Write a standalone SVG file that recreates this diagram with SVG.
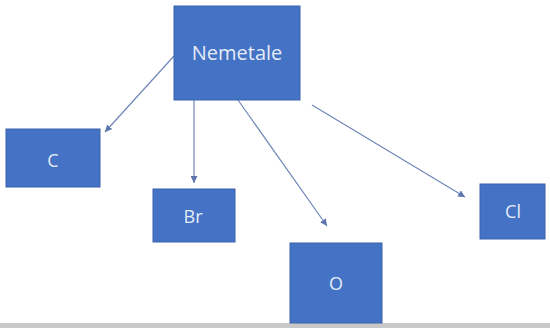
<svg xmlns="http://www.w3.org/2000/svg" width="550" height="328" viewBox="0 0 550 328">
<style>
.box{fill:#4472c4;stroke:#3a63ad;stroke-width:1}
.lbl{font-family:"Open Sans","Liberation Sans",sans-serif;fill:#e4ecf8;text-anchor:middle;dominant-baseline:central}
.edge{stroke:#6f86b8;stroke-width:1.2;fill:none;marker-end:url(#ah)}
</style>
<defs>
<marker id="ah" viewBox="0 0 10 10" refX="10" refY="5" markerWidth="7" markerHeight="7" markerUnits="userSpaceOnUse" orient="auto">
<path d="M0,0 L10,5 L0,10 z" fill="#5b76ad"/>
</marker>
</defs>
<rect width="550" height="328" fill="#ffffff"/>
<rect x="0" y="323" width="550" height="5" fill="#c8c8c8"/>
<g id="connectors">
<line class="edge" x1="174" y1="56" x2="105" y2="132"/>
<line class="edge" x1="194" y1="100" x2="194" y2="183"/>
<line class="edge" x1="238" y1="100" x2="327" y2="226"/>
<line class="edge" x1="312" y1="105" x2="465" y2="197"/>
</g>
<g id="nemetale">
<rect class="box" x="174" y="6" width="126" height="94"/>
<text class="lbl" x="237" y="52" font-size="20">Nemetale</text>
</g>
<g id="c">
<rect class="box" x="6" y="129" width="94" height="58"/>
<text class="lbl" x="53" y="160" font-size="18">C</text>
</g>
<g id="br">
<rect class="box" x="153" y="189" width="82" height="53"/>
<text class="lbl" x="193" y="216" font-size="18">Br</text>
</g>
<g id="o">
<rect class="box" x="290" y="243" width="92" height="80"/>
<text class="lbl" x="336" y="283" font-size="18">O</text>
</g>
<g id="cl">
<rect class="box" x="480" y="184" width="65" height="55"/>
<text class="lbl" x="513" y="211" font-size="18">Cl</text>
</g>
</svg>
